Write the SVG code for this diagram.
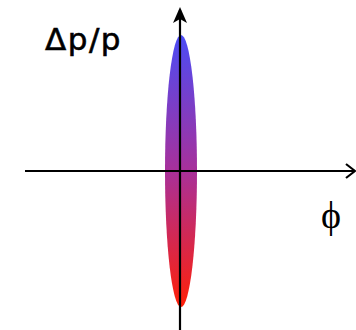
<svg xmlns="http://www.w3.org/2000/svg" width="356" height="330" viewBox="0 0 356 330">
<defs>
<linearGradient id="g" x1="0" y1="0" x2="0" y2="1">
<stop offset="0" stop-color="#4b4cf5"/>
<stop offset="0.5" stop-color="#a8309a"/>
<stop offset="1" stop-color="#ff2008"/>
</linearGradient>
<style>
.ax{stroke:#000;stroke-width:2.2;fill:none}
.lbl{font-family:"DejaVu Sans",sans-serif;fill:#000}
</style>
</defs>
<g id="beam"><ellipse cx="181" cy="171" rx="16" ry="136" fill="url(#g)"/></g>
<g id="connectors">
<line class="ax" x1="25" y1="171" x2="354" y2="171"/>
<path class="ax" d="M346,164 L355,171 L346,178"/>
<line class="ax" x1="180" y1="330" x2="180" y2="10"/>
<path d="M180,7 L187,23 L180,19 L173,23 Z" fill="#000"/>
</g>
<g id="label-dp"><text class="lbl" x="45" y="50" font-size="31" letter-spacing="1.5" stroke="#000" stroke-width="0.6">Δp/p</text></g>
<g id="label-phi"><text x="321" y="228" font-size="38" font-family="'Liberation Serif',serif">ϕ</text></g>
</svg>
